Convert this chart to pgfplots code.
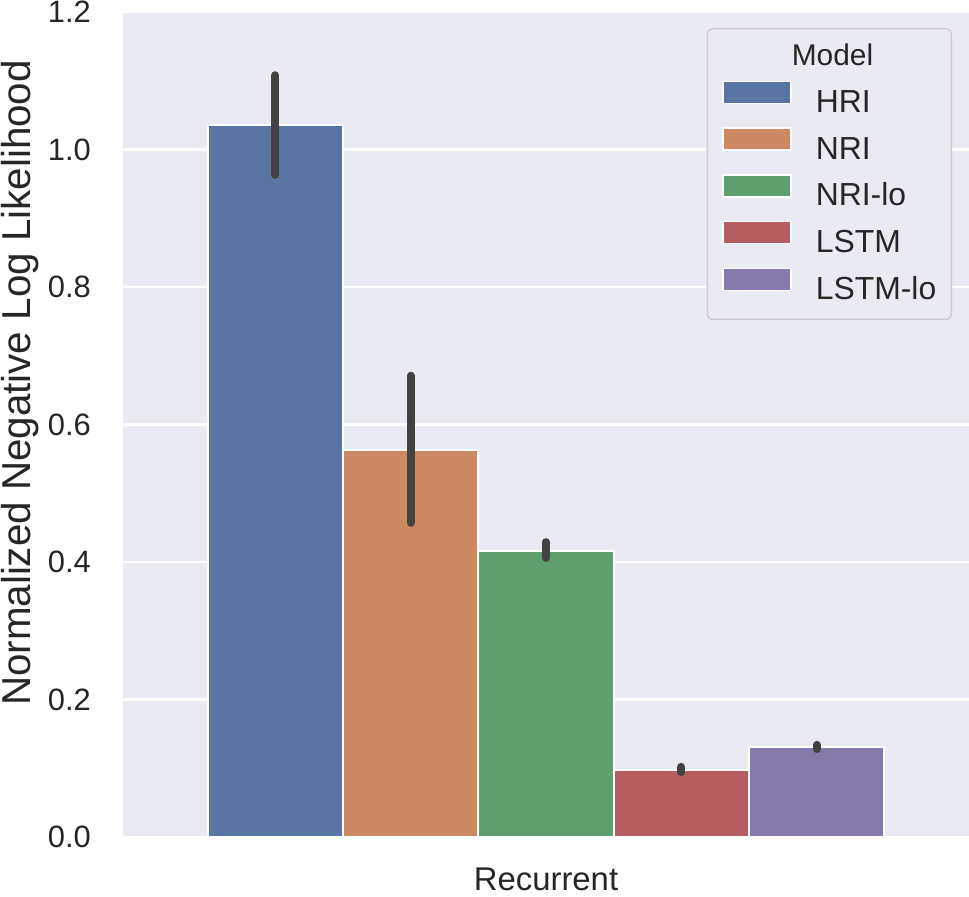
\documentclass[border=0pt]{standalone}
\usepackage{pgfplots}
\pgfplotsset{compat=1.18}
\usepackage{fontspec}
\setmainfont{Liberation Sans}
\definecolor{bg}{HTML}{EAEAF2}
\definecolor{cHRI}{HTML}{5975A4}
\definecolor{cNRI}{HTML}{CC8963}
\definecolor{cNRIlo}{HTML}{5F9E6E}
\definecolor{cLSTM}{HTML}{B55D60}
\definecolor{cLSTMlo}{HTML}{857AAB}
\definecolor{errc}{HTML}{424242}
\definecolor{txt}{HTML}{262626}
\definecolor{legedge}{HTML}{CCCCCC}
\begin{document}
\begin{tikzpicture}
\path[use as bounding box] (-123bp,-60bp) rectangle (846bp,837bp);
\begin{axis}[
  at={(0,0)}, anchor=south west,
  scale only axis, width=846bp, height=825bp,
  xmin=-0.5, xmax=0.5, ymin=0, ymax=1.2,
  axis background/.style={fill=bg},
  axis line style={draw=none},
  major tick length=0pt,
  ytick={0,0.2,0.4,0.6,0.8,1.0,1.2},
  yticklabels={0.0,0.2,0.4,0.6,0.8,1.0,1.2},
  yticklabel style={font=\fontsize{31}{31}\selectfont, text=txt, anchor=east, inner sep=0pt, xshift=-32bp},
  xtick={0}, xticklabels={Recurrent},
  xticklabel style={font=\fontsize{33}{33}\selectfont, text=txt, anchor=north, inner sep=0pt, yshift=-31bp},
  ymajorgrids, grid style={white, line width=2.5bp},
  ylabel={Normalized Negative Log Likelihood},
  ylabel style={at={(axis description cs:-0.1099,0.5503)}, anchor=base, font=\fontsize{40.5}{40.5}\selectfont, text=txt},
  legend cell align=left,
  legend style={at={(axis description cs:0.9799,0.9806)}, anchor=north east,
    draw=legedge, line width=1.5bp, fill=bg, rounded corners=5bp,
    font=\fontsize{32}{32}\selectfont, text=txt,
    inner xsep=15bp, inner ysep=13bp, row sep=8bp, column sep=24bp,
    nodes={inner sep=0pt, text height=24bp, text depth=7bp}},
  legend image code/.code={\draw[#1, draw=white, line width=1.5bp, sharp corners] (0bp,0.5bp) rectangle (68bp,22.5bp);},
  error bars/error mark=none,
  error bars/error bar style={draw=errc, line width=8bp, line cap=round, solid},
]
\addlegendimage{empty legend}
\addlegendentry{\hspace{-24bp}\fontsize{30}{30}\selectfont Model}
\addplot[ybar, bar width=0.16, bar shift=0, fill=cHRI, draw=white, line width=2bp,
  error bars/.cd, y dir=both, y explicit]
  coordinates {(-0.32,1.036) += (0,0.072) -= (0,0.073)};
\addlegendentry{HRI}
\addplot[ybar, bar width=0.16, bar shift=0, fill=cNRI, draw=white, line width=2bp,
  error bars/.cd, y dir=both, y explicit]
  coordinates {(-0.16,0.563) += (0,0.108) -= (0,0.106)};
\addlegendentry{NRI}
\addplot[ybar, bar width=0.16, bar shift=0, fill=cNRIlo, draw=white, line width=2bp,
  error bars/.cd, y dir=both, y explicit]
  coordinates {(0,0.416) += (0,0.013) -= (0,0.010)};
\addlegendentry{NRI-lo}
\addplot[ybar, bar width=0.16, bar shift=0, fill=cLSTM, draw=white, line width=2bp,
  error bars/.cd, y dir=both, y explicit]
  coordinates {(0.16,0.0975) += (0,0.0045) -= (0,0.003)};
\addlegendentry{LSTM}
\addplot[ybar, bar width=0.16, bar shift=0, fill=cLSTMlo, draw=white, line width=2bp,
  error bars/.cd, y dir=both, y explicit]
  coordinates {(0.32,0.131) += (0,0.003) -= (0,0.003)};
\addlegendentry{LSTM-lo}
\end{axis}
\end{tikzpicture}
\end{document}
